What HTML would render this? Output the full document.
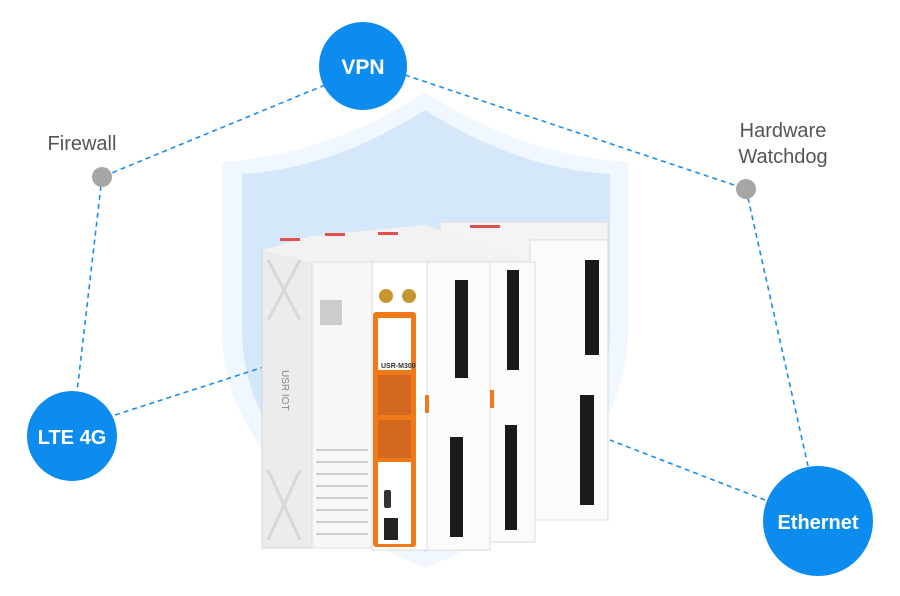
<!DOCTYPE html>
<html><head><style>
html,body{margin:0;padding:0;background:#fff;}
svg{display:block}
</style></head><body>
<svg width="900" height="596" viewBox="0 0 900 596" xmlns="http://www.w3.org/2000/svg" font-family="Liberation Sans, sans-serif">
<path d="M425 92 C360 135 290 158 222 162 L222 330 C222 450 330 530 425 568 C520 530 628 450 628 330 L628 162 C560 158 490 135 425 92Z" fill="#f0f7fe"/>
<path d="M425 110 C365 148 305 170 242 174 L242 330 C242 440 335 515 425 552 C515 515 610 440 610 330 L610 174 C545 170 485 148 425 110Z" fill="#d5e8fb"/>
<g stroke="#1a8ee8" stroke-width="1.6" stroke-dasharray="5,4" fill="none">
<line x1="325" y1="85" x2="102" y2="177"/>
<line x1="102" y1="177" x2="77" y2="392"/>
<line x1="115" y1="415" x2="270" y2="365"/>
<line x1="405" y1="75" x2="746" y2="189"/>
<line x1="746" y1="189" x2="808" y2="466"/>
<line x1="765" y1="500" x2="610" y2="440"/>
</g>
<rect x="440" y="222" width="168" height="298" fill="#f4f4f4" stroke="#ddd"/>
<rect x="530" y="240" width="78" height="280" fill="#fbfbfb" stroke="#ddd"/>
<rect x="585" y="260" width="14" height="95" fill="#1a1a1a"/>
<rect x="580" y="395" width="14" height="110" fill="#1a1a1a"/>
<rect x="470" y="225" width="30" height="3" fill="#e05050"/>
<rect x="262" y="250" width="50" height="298" fill="#ececec" stroke="#d5d5d5"/>
<path d="M268 260 L300 320 M300 260 L268 320 M268 470 L300 540 M300 470 L268 540" stroke="#d8d8d8" stroke-width="3"/>
<text x="282" y="370" font-size="10" fill="#888" transform="rotate(90 282 370)">USR IOT</text>
<path d="M262 250 L312 236 L425 225 L535 262 L312 262Z" fill="#f2f2f2"/>
<rect x="280" y="238" width="20" height="3" fill="#e05050"/>
<rect x="325" y="233" width="20" height="3" fill="#e05050"/>
<rect x="378" y="232" width="20" height="3" fill="#e05050"/>
<rect x="312" y="262" width="60" height="286" fill="#f7f7f7" stroke="#ddd"/>
<g stroke="#cfcfcf" stroke-width="2">
<line x1="316" y1="450" x2="368" y2="450"/><line x1="316" y1="462" x2="368" y2="462"/>
<line x1="316" y1="474" x2="368" y2="474"/><line x1="316" y1="486" x2="368" y2="486"/>
<line x1="316" y1="498" x2="368" y2="498"/><line x1="316" y1="510" x2="368" y2="510"/>
<line x1="316" y1="522" x2="368" y2="522"/><line x1="316" y1="534" x2="368" y2="534"/>
</g>
<rect x="320" y="300" width="22" height="25" fill="#ccc"/>
<rect x="372" y="262" width="55" height="288" fill="#fff" stroke="#ddd"/>
<circle cx="386" cy="296" r="7" fill="#c8962e"/><circle cx="409" cy="296" r="7" fill="#c8962e"/>
<rect x="373" y="312" width="43" height="235" rx="3" fill="#f07a1a"/>
<rect x="378" y="318" width="33" height="52" fill="#fff"/>
<text x="381" y="368" font-size="7" font-weight="bold" fill="#333">USR-M300</text>
<rect x="378" y="375" width="33" height="40" fill="#d2691e"/>
<rect x="378" y="420" width="33" height="38" fill="#d2691e"/>
<rect x="378" y="462" width="33" height="82" fill="#fff"/>
<rect x="384" y="490" width="7" height="18" rx="2" fill="#333"/>
<rect x="384" y="518" width="14" height="22" fill="#222"/>
<rect x="427" y="262" width="63" height="288" fill="#fbfbfb" stroke="#ddd"/>
<rect x="455" y="280" width="13" height="98" fill="#1a1a1a"/>
<rect x="450" y="437" width="13" height="100" fill="#1a1a1a"/>
<rect x="425" y="395" width="4" height="18" fill="#f07a1a"/>
<rect x="490" y="262" width="45" height="280" fill="#fbfbfb" stroke="#ddd"/>
<rect x="507" y="270" width="12" height="100" fill="#1a1a1a"/>
<rect x="505" y="425" width="12" height="105" fill="#1a1a1a"/>
<rect x="490" y="390" width="4" height="18" fill="#f07a1a"/>
<circle cx="102" cy="177" r="10" fill="#a6a6a6"/>
<circle cx="746" cy="189" r="10" fill="#a6a6a6"/>
<circle cx="363" cy="66" r="44" fill="#0d8cf0"/>
<text x="363" y="74" font-size="21" font-weight="bold" fill="#fff" text-anchor="middle">VPN</text>
<circle cx="72" cy="436" r="45" fill="#0d8cf0"/>
<text x="72" y="444" font-size="20" font-weight="bold" fill="#fff" text-anchor="middle">LTE 4G</text>
<circle cx="818" cy="521" r="55" fill="#0d8cf0"/>
<text x="818" y="529" font-size="20" font-weight="bold" fill="#fff" text-anchor="middle">Ethernet</text>
<text x="82" y="150" font-size="20" fill="#555" text-anchor="middle">Firewall</text>
<text x="783" y="137" font-size="20" fill="#555" text-anchor="middle">Hardware</text>
<text x="783" y="163" font-size="20" fill="#555" text-anchor="middle">Watchdog</text>
</svg>
</body></html>
